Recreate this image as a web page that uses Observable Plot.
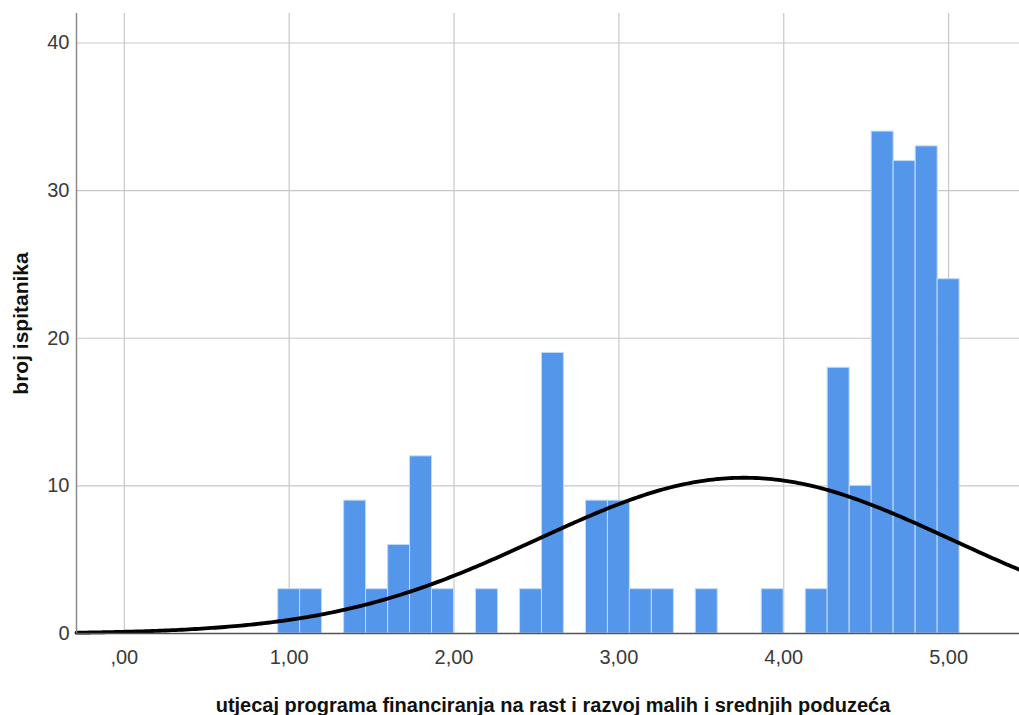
<!DOCTYPE html>
<html>
<head>
<meta charset="utf-8">
<script src="https://cdn.jsdelivr.net/npm/d3@7"></script>
<script src="https://cdn.jsdelivr.net/npm/@observablehq/plot@0.6"></script>
<style>
  html, body { margin: 0; padding: 0; background: #fff; }
  #chart svg { display: block; }
</style>
</head>
<body>
<div id="chart"></div>
<script>
// Histogram bins (centers) and counts
const binCenters = [1.00,1.133,1.267,1.40,1.533,1.667,1.80,1.933,2.067,2.20,2.333,2.467,2.60,2.733,2.867,3.00,3.133,3.267,3.40,3.533,3.667,3.80,3.933,4.067,4.20,4.333,4.467,4.60,4.733,4.867,5.00];
const counts     = [3,3,0,9,3,6,12,3,0,3,0,3,19,0,9,9,3,3,0,3,0,0,3,0,3,18,10,34,32,33,24];
const binWidth = 0.1333;

// Fitted normal curve parameters
const curveMean = 3.76;
const curveSD = 1.25;

const xTicks = [0, 1, 2, 3, 4, 5];
const xTickLabels = [",00", "1,00", "2,00", "3,00", "4,00", "5,00"];
const yTicks = [0, 10, 20, 30, 40];
const yTickLabels = ["0", "10", "20", "30", "40"];

const xDomain = [-0.29, 5.43];
const yDomain = [0, 42];

const xTitle = "utjecaj programa financiranja na rast i razvoj malih i srednjih poduzeća";
const yTitle = "broj ispitanika";

const bars = binCenters.map((c, i) => ({x1: c - binWidth / 2, x2: c + binWidth / 2, count: counts[i]}))
  .filter(d => d.count > 0);
const N = d3.sum(counts);

const curve = d3.range(xDomain[0], xDomain[1] + 0.001, 0.02).map(x => ({
  x,
  y: N * binWidth / (curveSD * Math.sqrt(2 * Math.PI)) * Math.exp(-0.5 * ((x - curveMean) / curveSD) ** 2)
}));

const chart = Plot.plot({
  width: 1019,
  height: 715,
  marginLeft: 76,
  marginRight: 0,
  marginTop: 13,
  marginBottom: 82,
  style: {fontFamily: "'Liberation Sans', Arial, sans-serif", fontSize: "20px", background: "#fff"},
  x: {domain: xDomain, ticks: xTicks},
  y: {domain: yDomain, ticks: yTicks},
  marks: [
    Plot.gridX(xTicks, {stroke: "#c8c8c8", strokeOpacity: 1, strokeWidth: 1.2}),
    Plot.gridY(yTicks.filter(t => t > 0), {stroke: "#c8c8c8", strokeOpacity: 1, strokeWidth: 1.2}),
    Plot.rectY(bars, {x1: "x1", x2: "x2", y: "count", fill: "#5396ea", stroke: "#c2daf7", strokeWidth: 1}),
    Plot.line(curve, {x: "x", y: "y", stroke: "#000", strokeWidth: 3.8, curve: "basis"}),
    Plot.ruleX([xDomain[0]], {stroke: "#8a8a8a", strokeWidth: 1.5}),
    Plot.ruleY([0], {stroke: "#555", strokeWidth: 1.5}),
    Plot.axisX(xTicks, {tickSize: 0, tickPadding: 16, fontSize: 20, fill: "#3a3a3a",
      tickFormat: (d) => xTickLabels[xTicks.indexOf(d)], label: null}),
    Plot.axisY(yTicks, {tickSize: 0, tickPadding: 7, fontSize: 20, fill: "#3a3a3a",
      tickFormat: d => yTickLabels[yTicks.indexOf(d)], label: null}),
    Plot.text([xTitle], {frameAnchor: "bottom", text: d => d, dy: 72, dx: 5, fontWeight: "bold", fontSize: 20, fill: "#111", textAnchor: "middle", lineAnchor: "middle"}),
    Plot.text([yTitle], {frameAnchor: "left", text: d => d, dx: -55, rotate: -90, fontWeight: "bold", fontSize: 21, fill: "#111", textAnchor: "middle", lineAnchor: "middle"})
  ]
});
document.getElementById("chart").appendChild(chart);
</script>
</body>
</html>
